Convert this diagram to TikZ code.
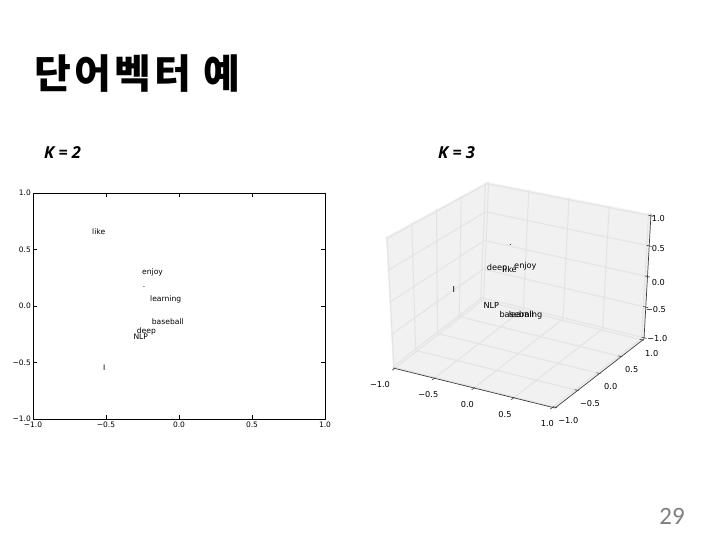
\documentclass[tikz,border=0pt]{standalone}
\usepackage{fontspec}
\newfontfamily\cjk[LetterSpace=8]{Noto Sans CJK KR}
\newfontfamily\mplfont{DejaVu Sans}
\newfontfamily\kfont{Open Sans}
\newfontfamily\numfont{Carlito}
\usetikzlibrary{calc}
\definecolor{panecol}{HTML}{F1F1F1}
\definecolor{gridcol}{HTML}{E4E4E4}
\definecolor{axcol}{HTML}{404040}
\definecolor{pagenum}{HTML}{7F7F7F}
\begin{document}
\begin{tikzpicture}[x=1pt,y=-1pt,
  word/.style={font=\mplfont\fontsize{7.6}{9}\selectfont, inner sep=0pt, anchor=west},
  word3/.style={font=\mplfont\fontsize{8.2}{10}\selectfont, inner sep=0pt, anchor=west},
  ticklab/.style={font=\mplfont\fontsize{7.5}{9}\selectfont, inner sep=0pt},
  ticklab3/.style={font=\mplfont\fontsize{8.2}{10}\selectfont, inner sep=0pt},
  frame/.style={draw=black, line width=0.8pt},
  tickmark/.style={draw=black, line width=0.6pt},
  pane/.style={fill=panecol},
  gridline/.style={draw=gridcol, line width=1.1pt},
  axisline/.style={draw=axcol, line width=0.7pt},
  tick3/.style={draw=axcol, line width=0.6pt}]
\fill[white] (0,0) rectangle (720,540);
\useasboundingbox (0,0) rectangle (720,540);

% title and headings
\node[font=\cjk\bfseries\fontsize{40}{44}\selectfont, inner sep=0pt, anchor=west] (title) at (34,73.5) {단어벡터 예};
\node[font=\kfont\bfseries\itshape\fontsize{16.5}{20}\selectfont, inner sep=0pt, anchor=west] (k2) at (44,153) {K = 2};
\node[font=\kfont\bfseries\itshape\fontsize{16.5}{20}\selectfont, inner sep=0pt, anchor=west] (k3) at (438,153) {K = 3};
\node[font=\numfont\fontsize{25}{28}\selectfont, text=pagenum, inner sep=0pt] (pnum) at (672,516) {29};

% ---------- 2D plot ----------
\coordinate (p2a) at (33,193);
\coordinate (p2b) at (325,419);
\foreach \v/\t in {-1/{−1.0},-0.5/{−0.5},0/{0.0},0.5/{0.5},1/{1.0}}{
  \pgfmathsetmacro\xx{179+146*\v}
  \pgfmathsetmacro\yy{306-113*\v}
  \draw[tickmark] (\xx,419) -- (\xx,415);
  \draw[tickmark] (\xx,193) -- (\xx,197);
  \draw[tickmark] (33,\yy) -- (37,\yy);
  \draw[tickmark] (325,\yy) -- (321,\yy);
  \node[ticklab] at (\xx,425) {\t};
  \node[ticklab, anchor=east] at (31,\yy) {\t};
}
\draw[frame] (p2a) rectangle (p2b);
\node[word] (w-like) at (92,232) {like};
\node[word] (w-enjoy) at (142,272) {enjoy};
\node[word] (w-dot) at (142.6,287) {.};
\node[word] (w-learning) at (150,299) {learning};
\node[word] (w-baseball) at (151.7,321.7) {baseball};
\node[word] (w-deep) at (136.7,331.7) {deep};
\node[word] (w-nlp) at (133.3,336.7) {NLP};
\node[word] (w-i) at (102.8,367.7) {I};

% ---------- 3D plot ----------
\coordinate (A) at (393,368);
\coordinate (B) at (555,408);
\coordinate (C) at (644,339);
\coordinate (D) at (482,299);
\coordinate (E) at (487,182);
\coordinate (F) at (386,237);
\coordinate (G) at (651,214);
\fill[pane] (A) -- (B) -- (C) -- (D) -- cycle;
\fill[pane] (A) -- (D) -- (E) -- (F) -- cycle;
\fill[pane] (D) -- (C) -- (G) -- (E) -- cycle;
\foreach \t in {0.01,0.255,0.5,0.745,0.985}{
  % floor
  \draw[gridline] ($(A)!\t!(B)$) -- ($(D)!\t!(C)$);
  \draw[gridline] ($(A)!\t!(D)$) -- ($(B)!\t!(C)$);
  % left pane
  \draw[gridline] ($(A)!\t!(D)$) -- ($(F)!\t!(E)$);
  \draw[gridline] ($(A)!\t!(F)$) -- ($(D)!\t!(E)$);
  % back pane
  \draw[gridline] ($(D)!\t!(C)$) -- ($(E)!\t!(G)$);
  \draw[gridline] ($(D)!\t!(E)$) -- ($(C)!\t!(G)$);
}
\draw[axisline] (A) -- (B) -- (C) -- (G);
\foreach \t in {0.01,0.255,0.5,0.745,0.985}{
  \coordinate (tx) at ($(A)!\t!(B)$);
  \draw[tick3] ($(tx)+(0.8,-0.6)$) -- ($(tx)+(-2.4,1.8)$);
  \coordinate (ty) at ($(B)!\t!(C)$);
  \draw[tick3] ($(ty)+(-3,-0.75)$) -- ($(ty)+(1,0.25)$);
  \coordinate (tz) at ($(C)!\t!(G)$);
  \draw[tick3] ($(tz)+(-2.5,-0.6)$) -- ($(tz)+(2.5,0.6)$);
}
% x tick labels
\node[ticklab3] at (380,384.3) {−1.0};
\node[ticklab3] at (428.3,395) {−0.5};
\node[ticklab3] at (467.3,405) {0.0};
\node[ticklab3] at (505,414.3) {0.5};
\node[ticklab3] at (547.3,424) {1.0};
% y tick labels
\node[ticklab3] at (568.3,421) {−1.0};
\node[ticklab3] at (590,403.3) {−0.5};
\node[ticklab3] at (610.7,386.7) {0.0};
\node[ticklab3] at (631.7,370) {0.5};
\node[ticklab3] at (651.7,353.3) {1.0};
% z tick labels
\node[ticklab3] at (657.3,339) {−1.0};
\node[ticklab3] at (656,310) {−0.5};
\node[ticklab3] at (658.3,282.3) {0.0};
\node[ticklab3] at (658.3,249) {0.5};
\node[ticklab3] at (658.3,219) {1.0};
% words
\node[word3] (v-dot) at (508.8,245) {.};
\node[word3] (v-deep) at (486.7,268.3) {deep};
\node[word3] (v-like) at (502.5,269.5) {like};
\node[word3] (v-enjoy) at (514,266.5) {enjoy};
\node[word3] (v-i) at (452.5,290) {I};
\node[word3] (v-nlp) at (483.3,305.7) {NLP};
\node[word3] (v-baseball) at (499.3,314.3) {baseball};
\node[word3] (v-learning) at (508.7,314.8) {learning};
\end{tikzpicture}
\end{document}
